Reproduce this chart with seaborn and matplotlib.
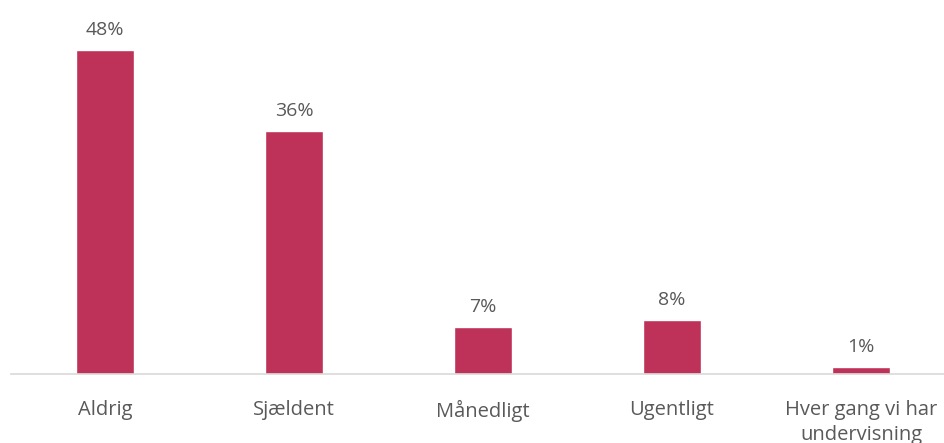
import numpy as np
import pandas as pd
import seaborn as sns
import matplotlib.pyplot as plt

# data
categories = ['Aldrig', 'Sjældent', 'Månedligt', 'Ugentligt', 'Hver gang vi har\nundervisning']
values = [48, 36, 7, 8, 1]
labels = ['48%', '36%', '7%', '8%', '1%']

df = pd.DataFrame({'kategori': categories, 'andel': values})

sns.set_theme(style='white')
plt.rcParams['font.family'] = ['Open Sans', 'DejaVu Sans']

fig = plt.figure(figsize=(9.44, 4.43), dpi=100)
ax = fig.add_axes([10.5 / 944, 69 / 443, 945 / 944, 371 / 443])

sns.barplot(data=df, x='kategori', y='andel', color='#BE3158', width=0.31,
            saturation=1, ax=ax)

for p, lab in zip(ax.patches, labels):
    ax.annotate(lab, (p.get_x() + p.get_width() / 2, p.get_height()),
                xytext=(0, 8), textcoords='offset points',
                ha='center', va='bottom', fontsize=14, color='#595959')

ax.set_ylim(0, 55)
ax.set_xlim(-0.5, 4.5)
ax.set_xlabel('')
ax.set_ylabel('')
ax.set_yticks([])
for s in ['top', 'right', 'left']:
    ax.spines[s].set_visible(False)
ax.spines['bottom'].set_color('#D9D9D9')
ax.spines['bottom'].set_linewidth(1.2)
ax.tick_params(axis='x', length=0, pad=19, labelsize=14.5, labelcolor='#595959')
for t in ax.get_xticklabels():
    t.set_linespacing(1.3)

fig.savefig('out.png', dpi=100)
